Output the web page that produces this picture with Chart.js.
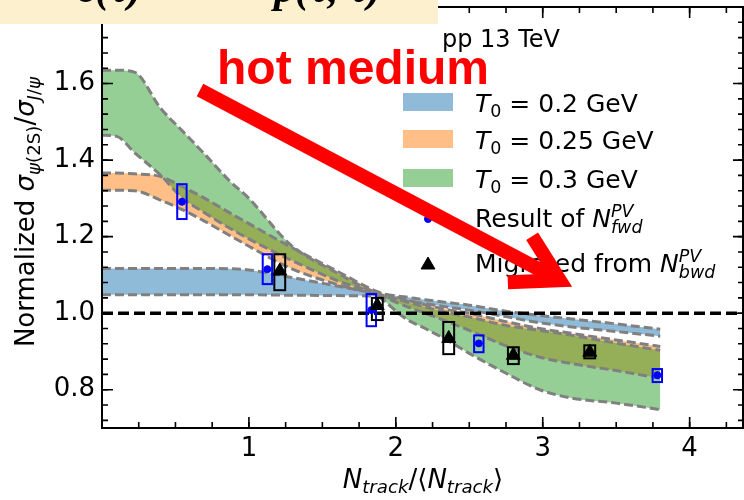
<!DOCTYPE html>
<html>
<head>
<meta charset="utf-8">
<script src="https://cdn.jsdelivr.net/npm/chart.js@4.4.0/dist/chart.umd.min.js"></script>
<style>
html, body { margin: 0; padding: 0; background: #fff; overflow: hidden; }
canvas { display: block; }
</style>
</head>
<body>
<canvas id="plotHere" width="744" height="500"></canvas>
<script>
// axis ranges and labelled ticks
let xMin = 0, xMax = 4.37, yMin = 0.7, yMax = 1.8;
let xTickValues = [1, 2, 3, 4];
let yTickValues = [0.8, 1.0, 1.2, 1.4, 1.6];
let xMinorStep = 0.25, yMinorStep = 0.04;

// model bands (upper / lower edge) on a common x grid
let bandX      = [0, 0.1, 0.22, 0.4, 0.55, 0.7, 0.87, 1.0, 1.28, 1.6, 1.87, 2.07, 2.2, 2.37, 2.5, 2.75, 2.98, 3.2, 3.5, 3.8];
let blueUpper  = [1.117, 1.117, 1.117, 1.117, 1.117, 1.117, 1.116, 1.113, 1.094, 1.071, 1.052, 1.042, 1.035, 1.027, 1.021, 1.005, 0.994, 0.985, 0.972, 0.958];
let blueLower  = [1.048, 1.048, 1.048, 1.048, 1.048, 1.048, 1.048, 1.048, 1.047, 1.046, 1.044, 1.032, 1.025, 1.015, 1.008, 0.991, 0.975, 0.964, 0.952, 0.940];
let orangeUpper= [1.366, 1.366, 1.364, 1.357, 1.330, 1.300, 1.262, 1.234, 1.174, 1.110, 1.057, 1.035, 1.022, 1.008, 1.000, 0.978, 0.960, 0.947, 0.930, 0.913];
let orangeLower= [1.321, 1.321, 1.320, 1.295, 1.270, 1.240, 1.203, 1.175, 1.118, 1.075, 1.048, 1.018, 1.000, 0.975, 0.955, 0.915, 0.885, 0.868, 0.850, 0.830];
let greenUpper = [1.635, 1.635, 1.630, 1.535, 1.475, 1.415, 1.345, 1.300, 1.180, 1.105, 1.052, 1.030, 1.016, 1.000, 0.990, 0.968, 0.955, 0.942, 0.922, 0.903];
let greenLower = [1.465, 1.462, 1.420, 1.360, 1.300, 1.262, 1.222, 1.194, 1.140, 1.085, 1.046, 0.985, 0.960, 0.925, 0.895, 0.843, 0.800, 0.778, 0.765, 0.748];
let t0Values = ['0.2', '0.25', '0.3'];

// Result of N_fwd^PV : point, box low, box high
let fwdX  = [0.544, 1.126, 1.833, 2.565, 3.780];
let fwdY  = [1.291, 1.115, 1.008, 0.921, 0.838];
let fwdLo = [1.246, 1.076, 0.966, 0.898, 0.820];
let fwdHi = [1.337, 1.154, 1.050, 0.942, 0.854];
// Migrated from N_bwd^PV
let bwdX  = [1.210, 1.874, 2.360, 2.800, 3.320];
let bwdY  = [1.110, 1.020, 0.934, 0.890, 0.898];
let bwdLo = [1.060, 0.982, 0.893, 0.867, 0.882];
let bwdHi = [1.154, 1.040, 0.977, 0.911, 0.916];

let refY = 1.0;
// arrow annotation, data coordinates
let arrowFrom = [0.667, 1.583], arrowTo = [3.116, 1.086];

const cBlue = 'rgba(31,119,180,0.5)', cOrange = 'rgba(255,127,14,0.5)', cGreen = 'rgba(44,160,44,0.5)';
const FONT = '"DejaVu Sans"';

function xy(xs, ys) { return xs.map((x, i) => ({x: x, y: ys[i]})); }

function edge(ys, color, fillIt, order) {
	return {
		data: xy(bandX, ys),
		borderColor: '#808080', borderWidth: 3, borderDash: [9, 4],
		pointRadius: 0, cubicInterpolationMode: 'monotone',
		backgroundColor: color, fill: fillIt ? '+1' : false, order: order
	};
}

// text with sub/superscripts: parts {t, it, s, dy} or stacked {up, dn, it, s}
function fnt(size, it) { return (it ? 'italic ' : '') + size + 'px ' + FONT; }
function richWidth(ctx, parts, size) {
	let w = 0;
	for (const p of parts) {
		ctx.font = fnt(size * (p.s || 1), p.it);
		p.w = p.up !== undefined ? Math.max(ctx.measureText(p.up).width, ctx.measureText(p.dn).width)
			: ctx.measureText(p.t).width;
		w += p.w;
	}
	return w;
}
function drawRich(ctx, parts, x, y, size) {
	richWidth(ctx, parts, size);
	let cx = x;
	ctx.textAlign = 'left'; ctx.textBaseline = 'alphabetic';
	for (const p of parts) {
		ctx.font = fnt(size * (p.s || 1), p.it);
		if (p.up !== undefined) {
			ctx.fillText(p.up, cx, y - size * 0.42);
			ctx.fillText(p.dn, cx, y + size * 0.24);
		} else {
			ctx.fillText(p.t, cx, y + (p.dy || 0) * size);
		}
		cx += p.w;
	}
}

const decor = {
	id: 'decor',
	afterDatasetDraw(chart, args) {
		if (args.index !== 6) return; // after the reference line: uncertainty boxes
		const ctx = chart.ctx, xs = chart.scales.x, ys = chart.scales.y;
		ctx.save();
		ctx.lineWidth = 2;
		const box = (X, lo, hi, half, col) => {
			ctx.strokeStyle = col;
			for (let i = 0; i < X.length; i++) {
				const l = xs.getPixelForValue(X[i] - half), r = xs.getPixelForValue(X[i] + half);
				const t = ys.getPixelForValue(hi[i]), b = ys.getPixelForValue(lo[i]);
				ctx.strokeRect(l, t, r - l, b - t);
			}
		};
		box(fwdX, fwdLo, fwdHi, 0.032, '#0000ff');
		box(bwdX, bwdLo, bwdHi, 0.037, '#000000');
		ctx.restore();
	},
	afterDraw(chart) {
		const ctx = chart.ctx, a = chart.chartArea, xs = chart.scales.x, ys = chart.scales.y;
		ctx.save();
		// frame and inward ticks on all four sides
		ctx.strokeStyle = '#000'; ctx.lineWidth = 2;
		ctx.strokeRect(a.left, a.top, a.right - a.left - 1, a.bottom - a.top);
		ctx.lineWidth = 1.6;
		const xt = (v, len) => {
			const p = xs.getPixelForValue(v);
			ctx.beginPath();
			ctx.moveTo(p, a.bottom); ctx.lineTo(p, a.bottom - len);
			ctx.moveTo(p, a.top); ctx.lineTo(p, a.top + len);
			ctx.stroke();
		};
		const yt = (v, len) => {
			const p = ys.getPixelForValue(v);
			ctx.beginPath();
			ctx.moveTo(a.left, p); ctx.lineTo(a.left + len, p);
			ctx.moveTo(a.right, p); ctx.lineTo(a.right - len, p);
			ctx.stroke();
		};
		for (let v = xMinorStep; v < xMax; v += xMinorStep) xt(v, 6);
		xTickValues.forEach(v => xt(v, 11));
		for (let v = yMin + 0.02; v < yMax; v += yMinorStep) yt(v, 6);
		yTickValues.forEach(v => yt(v, 11));

		ctx.fillStyle = '#000';
		// axis titles
		const yTitle = [{t: 'Normalized '}, {t: 'σ', it: 1}, {t: 'ψ', it: 1, s: .7, dy: .22}, {t: '(2S)', s: .7, dy: .22},
			{t: '/'}, {t: 'σ', it: 1}, {t: 'J', it: 1, s: .7, dy: .22}, {t: '/', s: .7, dy: .22}, {t: 'ψ', it: 1, s: .7, dy: .22}];
		const yw = richWidth(ctx, yTitle, 26);
		ctx.save();
		ctx.translate(34, 212); ctx.rotate(-Math.PI / 2);
		drawRich(ctx, yTitle, -yw / 2, 0, 26);
		ctx.restore();
		const xTitle = [{t: 'N', it: 1}, {t: 'track', it: 1, s: .7, dy: .2}, {t: '/⟨'}, {t: 'N', it: 1}, {t: 'track', it: 1, s: .7, dy: .2}, {t: '⟩'}];
		const xw = richWidth(ctx, xTitle, 26);
		drawRich(ctx, xTitle, (a.left + a.right) / 2 - xw / 2, 488, 26);

		// legend
		const bandCols = [cBlue, cOrange, cGreen];
		const base = [112, 149, 188, 227, 272];
		t0Values.forEach((t, i) => {
			ctx.fillStyle = bandCols[i];
			ctx.fillRect(403, base[i] - 19, 50, 18);
			ctx.fillStyle = '#000';
			drawRich(ctx, [{t: 'T', it: 1}, {t: '0', s: .7, dy: .2}, {t: ' = ' + t + ' GeV'}], 475, base[i], 25);
		});
		ctx.fillStyle = '#0000ff'; ctx.strokeStyle = '#0000ff'; ctx.lineWidth = 1;
		Chart.helpers.drawPoint(ctx, {pointStyle: 'circle', radius: 3.5, rotation: 0, borderWidth: 1}, 428, 219);
		ctx.fillStyle = '#000'; ctx.strokeStyle = '#000';
		Chart.helpers.drawPoint(ctx, {pointStyle: 'triangle', radius: 8, rotation: 0, borderWidth: 1}, 428, 265);
		drawRich(ctx, [{t: 'Result of '}, {t: 'N', it: 1}, {up: 'PV', dn: 'fwd', it: 1, s: .7}], 475, base[3], 25);
		drawRich(ctx, [{t: 'Migrated from '}, {t: 'N', it: 1}, {up: 'PV', dn: 'bwd', it: 1, s: .7}], 475, base[4], 25);

		// collision system
		ctx.font = '24px ' + FONT;
		ctx.fillText('pp 13 TeV', 442, 47);

		// annotation: red arrow and label
		ctx.fillStyle = '#ff0000';
		ctx.font = 'bold 48px "Liberation Sans"';
		ctx.fillText('hot medium', 217, 84);
		const x0 = xs.getPixelForValue(arrowFrom[0]), y0 = ys.getPixelForValue(arrowFrom[1]);
		const x1 = xs.getPixelForValue(arrowTo[0]), y1 = ys.getPixelForValue(arrowTo[1]);
		const ang = Math.atan2(y0 - y1, x0 - x1), hl = 52, hw = 30 * Math.PI / 180;
		ctx.strokeStyle = '#ff0000'; ctx.lineWidth = 14; ctx.lineCap = 'butt'; ctx.lineJoin = 'miter';
		ctx.beginPath(); ctx.moveTo(x0, y0); ctx.lineTo(x1 + 6 * Math.cos(ang), y1 + 6 * Math.sin(ang)); ctx.stroke();
		ctx.beginPath();
		ctx.moveTo(x1 + hl * Math.cos(ang + hw), y1 + hl * Math.sin(ang + hw));
		ctx.lineTo(x1, y1);
		ctx.lineTo(x1 + hl * Math.cos(ang - hw), y1 + hl * Math.sin(ang - hw));
		ctx.stroke();

		// formula banner across the top
		ctx.fillStyle = '#fdf0cf';
		ctx.fillRect(0, 0, 438, 24);
		ctx.fillStyle = '#000';
		ctx.font = 'bold italic 42px "Liberation Serif"';
		ctx.fillText('ε(τ) =', 78, 2);
		ctx.fillText('p(τ, τ)', 274, 2);
		ctx.restore();
	}
};

new Chart(document.getElementById('plotHere').getContext('2d'), {
	type: 'line',
	data: {
		datasets: [
			edge(blueUpper, cBlue, true, 5), edge(blueLower, cBlue, false, 5),
			edge(orangeUpper, cOrange, true, 4), edge(orangeLower, cOrange, false, 4),
			edge(greenUpper, cGreen, true, 3), edge(greenLower, cGreen, false, 3),
			{
				data: [{x: xMin, y: refY}, {x: xMax, y: refY}],
				borderColor: '#000', borderWidth: 3.5, borderDash: [11, 5],
				pointRadius: 0, fill: false, order: 2
			},
			{
				data: xy(fwdX, fwdY), showLine: false, fill: false, order: 1,
				pointStyle: 'circle', pointRadius: 3.5, pointBorderWidth: 1,
				pointBackgroundColor: '#0000ff', pointBorderColor: '#0000ff'
			},
			{
				data: xy(bwdX, bwdY), showLine: false, fill: false, order: 0,
				pointStyle: 'triangle', pointRadius: 8, pointBorderWidth: 1,
				pointBackgroundColor: '#000', pointBorderColor: '#000'
			}
		]
	},
	options: {
		responsive: false,
		animation: false,
		devicePixelRatio: 1,
		layout: { autoPadding: false, padding: { left: 0, right: 0, top: 7, bottom: 0 } },
		plugins: {
			legend: { display: false },
			tooltip: { enabled: false },
			filler: { drawTime: 'beforeDatasetsDraw' }
		},
		scales: {
			x: {
				type: 'linear', min: xMin, max: xMax,
				grid: { display: false, drawTicks: false },
				border: { display: false },
				afterBuildTicks: s => { s.ticks = xTickValues.map(v => ({value: v})); },
				afterFit: s => { s.height = 72; s.paddingLeft = 0; s.paddingRight = 0; },
				ticks: { color: '#000', padding: 6, font: { family: 'DejaVu Sans', size: 26 }, callback: v => String(v), maxRotation: 0 }
			},
			y: {
				type: 'linear', min: yMin, max: yMax,
				grid: { display: false, drawTicks: false },
				border: { display: false },
				afterBuildTicks: s => { s.ticks = yTickValues.map(v => ({value: v})); },
				afterFit: s => { s.width = 102; s.paddingTop = 0; s.paddingBottom = 0; },
				ticks: { color: '#000', padding: 7, font: { family: 'DejaVu Sans', size: 26 }, callback: v => v.toFixed(1) }
			}
		}
	},
	plugins: [decor]
});
</script>
</body>
</html>
